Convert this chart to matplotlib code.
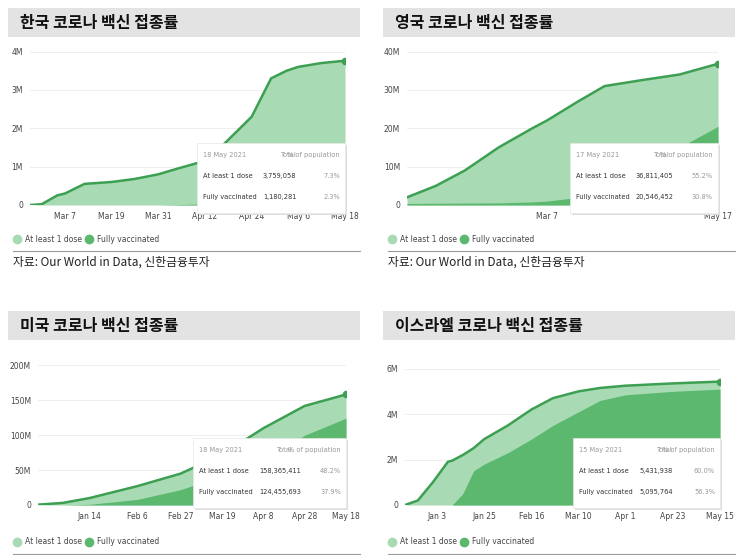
import matplotlib
matplotlib.use("Agg")
import matplotlib.pyplot as plt
from matplotlib.patches import Rectangle
from matplotlib.lines import Line2D
from datetime import datetime

KR = "Noto Sans CJK KR"
W, H = 743, 555

# ---------------- data ----------------
kr_titles = ["한국 코로나 백신 접종률", "영국 코로나 백신 접종률", "미국 코로나 백신 접종률", "이스라엘 코로나 백신 접종률"]

korea_dates = ["2021-02-26","2021-03-01","2021-03-05","2021-03-07","2021-03-12","2021-03-19","2021-03-25","2021-03-31",
               "2021-04-05","2021-04-12","2021-04-17","2021-04-20","2021-04-24","2021-04-29","2021-05-03","2021-05-06","2021-05-12","2021-05-18"]
korea_one = [0,0.02,0.25,0.3,0.55,0.6,0.68,0.8,0.95,1.15,1.6,1.9,2.3,3.3,3.5,3.6,3.7,3.76]
korea_full = [0,0,0,0,0,0,0,0,0.01,0.03,0.05,0.08,0.12,0.2,0.4,0.6,0.9,1.18]

uk_dates = ["2021-01-08","2021-01-20","2021-02-01","2021-02-15","2021-03-01","2021-03-07","2021-03-20","2021-03-31","2021-04-15","2021-05-01","2021-05-17"]
uk_one = [2,5,9,15,20,22,27,31,32.5,34,36.8]
uk_full = [0.4,0.45,0.5,0.55,0.8,1.0,2.0,4.0,9.0,15.0,20.5]

us_dates = ["2020-12-20","2021-01-01","2021-01-14","2021-02-06","2021-02-27","2021-03-19","2021-04-08","2021-04-28","2021-05-18"]
us_one = [0.5,3,10,27,45,72,110,142,158.4]
us_full = [0,0,1,8,22,42,65,100,124.5]

il_dates = ["2020-12-19","2020-12-25","2021-01-01","2021-01-08","2021-01-10","2021-01-15","2021-01-20","2021-01-25","2021-02-05","2021-02-16",
            "2021-02-26","2021-03-10","2021-03-20","2021-04-01","2021-04-23","2021-05-15"]
il_one = [0,0.2,1.0,1.9,1.95,2.2,2.5,2.9,3.5,4.2,4.7,5.0,5.15,5.25,5.35,5.43]
il_full = [0,0,0,0,0,0.5,1.5,1.8,2.3,2.9,3.5,4.1,4.6,4.85,5.0,5.1]

korea_ticks = ["2021-03-07","2021-03-19","2021-03-31","2021-04-12","2021-04-24","2021-05-06","2021-05-18"]
uk_ticks = ["2021-03-07","2021-05-17"]
us_ticks = ["2021-01-14","2021-02-06","2021-02-27","2021-03-19","2021-04-08","2021-04-28","2021-05-18"]
il_ticks = ["2021-01-03","2021-01-25","2021-02-16","2021-03-10","2021-04-01","2021-04-23","2021-05-15"]

tooltips = [
    ("18 May 2021", "3,759,058", "7.3%", "1,180,281", "2.3%"),
    ("17 May 2021", "36,811,405", "55.2%", "20,546,452", "30.8%"),
    ("18 May 2021", "158,365,411", "48.2%", "124,455,693", "37.9%"),
    ("15 May 2021", "5,431,938", "60.0%", "5,095,764", "56.3%"),
]
yticks = [[0,1,2,3,4],[0,10,20,30,40],[0,50,100,150,200],[0,2,4,6]]
ymax = [4.3, 43, 215, 6.6]
source = "자료: Our World in Data, 신한금융투자"

LIGHT = "#a8dbb4"
DARK = "#5bb86e"
LINE = "#3c9f52"

fig = plt.figure(figsize=(W/100, H/100), dpi=100)
fig.patch.set_facecolor("white")

def fx(x): return x / W
def fy(y): return 1 - y / H

panels = [
    (korea_dates, korea_one, korea_full, korea_ticks),
    (uk_dates, uk_one, uk_full, uk_ticks),
    (us_dates, us_one, us_full, us_ticks),
    (il_dates, il_one, il_full, il_ticks),
]
origins = [(8, 0), (383, 0), (8, 303), (383, 303)]
axbox = [(30, 40, 345, 205), (407, 40, 718, 205), (38, 355, 346, 505), (405, 355, 720, 505)]
tipbox = [(197, 143, 345, 213), (570, 143, 718, 213), (193, 438, 346, 508), (573, 438, 720, 508)]

for i, (dates, one, full, ticks) in enumerate(panels):
    ox, oy = origins[i]
    fig.patches.append(Rectangle((fx(ox), fy(oy+37)), fx(352), 29/H, transform=fig.transFigure,
                                 facecolor="#e3e3e3", edgecolor="none"))
    fig.text(fx(ox+12), fy(oy+23), kr_titles[i], fontfamily=KR, fontsize=11.5, fontweight="bold",
             va="center", ha="left", color="#111")
    x0, y0, x1, y1 = axbox[i]
    ax = fig.add_axes([fx(x0), fy(y1), fx(x1-x0), (y1-y0)/H])
    d = [datetime.strptime(s, "%Y-%m-%d") for s in dates]
    ax.fill_between(d, one, color=LIGHT, lw=0)
    ax.fill_between(d, full, color=DARK, lw=0)
    ax.plot(d, one, color=LINE, lw=1.8)
    ax.plot([d[-1]], [one[-1]], "o", color=LINE, ms=4.5)
    ax.axvline(d[-1], color="#cccccc", lw=0.8, ls=":")
    ax.set_xlim(d[0], d[-1])
    ax.set_ylim(0, ymax[i])
    ax.set_yticks(yticks[i])
    ax.set_yticklabels(["0" if v == 0 else f"{v}M" for v in yticks[i]], fontsize=5.5, color="#444")
    td = [datetime.strptime(s, "%Y-%m-%d") for s in ticks]
    ax.set_xticks(td)
    ax.set_xticklabels([t.strftime("%b ") + str(t.day) for t in td], fontsize=5.5, color="#444")
    ax.grid(axis="y", color="#eeeeee", lw=0.7)
    ax.set_axisbelow(True)
    for s in ax.spines.values(): s.set_visible(False)
    ax.tick_params(length=0, pad=5)
    # tooltip
    tx0, ty0, tx1, ty1 = tipbox[i]
    fig.patches.append(Rectangle((fx(tx0+2), fy(ty1+2)), fx(tx1-tx0), (ty1-ty0)/H, transform=fig.transFigure,
                                 facecolor="#dddddd", edgecolor="none", zorder=5))
    fig.patches.append(Rectangle((fx(tx0), fy(ty1)), fx(tx1-tx0), (ty1-ty0)/H, transform=fig.transFigure,
                                 facecolor="white", edgecolor="#e8e8e8", lw=0.5, zorder=6))
    date, a1, p1, a2, p2 = tooltips[i]
    yy = fy(ty0 + 12)
    fig.text(fx(tx0 + 6), yy, date, fontsize=4.8, color="#999", va="center", zorder=7)
    fig.text(fx(tx0 + 92), yy, "Total", fontsize=4.8, color="#999", va="center", ha="center", zorder=7)
    fig.text(fx(tx1 - 5), yy, "% of population", fontsize=4.8, color="#999", va="center", ha="right", zorder=7)
    for r, (lab, a, p) in enumerate([("At least 1 dose", a1, p1), ("Fully vaccinated", a2, p2)]):
        yy = fy(ty0 + 33 + r * 21)
        fig.text(fx(tx0 + 6), yy, lab, fontsize=4.8, color="#333", va="center", zorder=7)
        fig.text(fx(tx0 + 66), yy, a, fontsize=4.8, color="#333", va="center", ha="left", zorder=7)
        fig.text(fx(tx1 - 5), yy, p, fontsize=4.8, color="#999", va="center", ha="right", zorder=7)
    # legend
    ly = oy + 239
    fig.lines.append(Line2D([fx(ox+9)], [fy(ly)], marker="o", ms=6, color=LIGHT, lw=0, transform=fig.transFigure))
    fig.text(fx(ox+17), fy(ly), "At least 1 dose", fontsize=5.5, color="#444", va="center")
    fig.lines.append(Line2D([fx(ox+81)], [fy(ly)], marker="o", ms=6, color=DARK, lw=0, transform=fig.transFigure))
    fig.text(fx(ox+89), fy(ly), "Fully vaccinated", fontsize=5.5, color="#444", va="center")
    fig.lines.append(Line2D([fx(ox+5), fx(ox+352)], [fy(oy+251)]*2, transform=fig.transFigure,
                            color="#999", lw=0.8))
    if oy == 0:
        fig.text(fx(ox+5), fy(oy+262), source, fontfamily=KR, fontsize=8.5, color="#222", va="center")

fig.savefig("out.png", dpi=100, facecolor="white")
